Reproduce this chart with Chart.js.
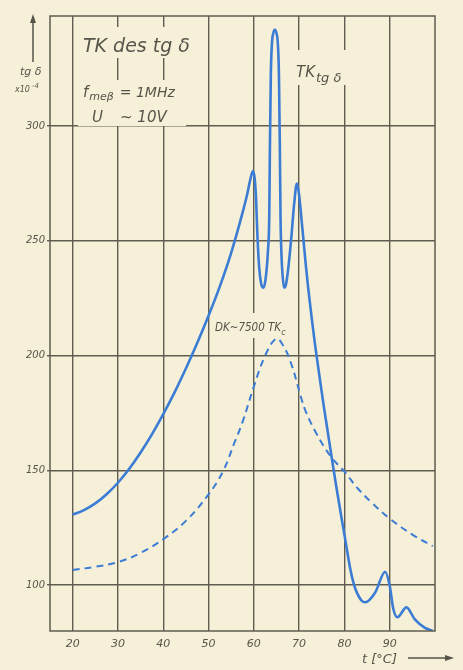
<!DOCTYPE html>
<html>
<head>
<meta charset="utf-8">
<script src="https://cdn.jsdelivr.net/npm/chart.js@4.4.1/dist/chart.umd.min.js"></script>
<style>
  html, body { margin: 0; padding: 0; background: #f7f0d8; }
  #wrap { width: 463px; height: 670px; }
</style>
</head>
<body>
<div id="wrap"><canvas id="chart"></canvas></div>
<script>
// TK tg δ (solid curve)
const solidT = [20, 22.5, 25, 27.5, 30, 32.5, 35, 37.5, 40, 42.5, 45, 47.5, 50, 52.5, 55, 57.5, 58.5, 59.2, 59.8,
  60.2, 60.5, 60.8, 61.2, 61.6, 62, 62.4, 62.8, 63.1, 63.4, 63.55, 63.75, 64, 64.3, 64.65, 65, 65.3, 65.55, 65.75, 65.9,
  66.1, 66.35, 66.7, 67.1, 67.6, 68.3, 68.9, 69.5, 70, 70.5, 71, 71.5, 72, 72.8, 73.5, 74.1, 75, 75.6, 76.5, 77.2, 78,
  78.5, 79.3, 80, 80.6, 81.3, 82, 82.8, 83.7, 84.6,
  86.8, 89, 90, 90.8, 91.7, 93.7, 95.5, 97.7, 99.5];
const solidV = [130.7, 132.7, 135.6, 139.6, 144.6, 150.7, 157.8, 165.7, 174.5, 184, 194.4, 205.5, 217.4, 230.2, 244.8, 262.2, 270, 276.5, 280.4,
  277, 268, 252, 238, 231.5, 229.6, 231, 237, 245, 260, 290, 322, 336, 340.5, 342, 340.5, 336, 322, 290, 260,
  244, 235, 229.6, 231, 238, 252, 266, 275, 270, 260, 249.5, 239, 229.5, 216, 205, 196.5, 184, 176, 164.5, 155.5, 145.5,
  139.5, 130, 122, 115, 107, 101, 96.5, 93.5, 92.5,
  96.8, 105.8, 99.7, 89.6, 86, 90.3, 85.2, 81.5, 80];

// DK ~ 7500 TKc (dashed curve)
const dashT = [20, 25, 30, 35, 40, 45, 50, 53.3, 55.7, 57.5, 60, 62.5, 64.9, 66.3, 68.2, 70.4, 71.5, 73.7, 77, 80, 83, 86, 90, 95, 99.5];
const dashV = [106.6, 108, 110, 114, 120, 128, 139.5, 150, 162, 171, 186.5, 200, 207.4, 205, 196.8, 182, 175.5, 166.5, 156, 149.5, 142, 136, 129, 122, 117];

const xTicks = [20, 30, 40, 50, 60, 70, 80, 90];
const yTicks = [100, 150, 200, 250, 300];

const paper = '#f7f0d8';
const ink = '#55544a';
const gridCol = '#5e5d50';
const blue = '#3b7cd4';
const fontFam = '"DejaVu Sans", "Liberation Sans", sans-serif';
const condFam = '"DejaVu Sans Condensed", "Liberation Sans Narrow", sans-serif';

function pts(xs, ys) {
  return xs.map((x, i) => ({ x: x, y: ys[i] }));
}

function arrowHead(c, x, y, dir) {
  c.beginPath();
  if (dir === 'up') {
    c.moveTo(x, y); c.lineTo(x - 3, y + 9); c.lineTo(x + 3, y + 9);
  } else {
    c.moveTo(x, y); c.lineTo(x - 9, y - 3); c.lineTo(x - 9, y + 3);
  }
  c.closePath();
  c.fill();
}

const deco = {
  id: 'deco',
  beforeDatasetsDraw(chart) {
    // paper-coloured patches behind the labels, they break the grid lines
    const c = chart.ctx;
    c.save();
    c.fillStyle = paper;
    [[78, 27, 122, 31], [78, 80, 108, 46], [292, 50, 58, 35], [213, 313, 69, 25]]
      .forEach(r => c.fillRect(r[0], r[1], r[2], r[3]));
    c.restore();
  },
  afterDraw(chart) {
    const c = chart.ctx, a = chart.chartArea;
    c.save();
    c.strokeStyle = gridCol;
    c.lineWidth = 1.5;
    c.strokeRect(a.left, a.top, a.right - a.left, a.bottom - a.top);

    c.fillStyle = ink;
    c.textBaseline = 'alphabetic';
    c.textAlign = 'left';
    const txt = (s, x, y, size, fam) => {
      c.font = 'oblique ' + size + 'px ' + (fam || fontFam);
      c.fillText(s, x, y);
      return x + c.measureText(s).width;
    };

    // title block
    txt('TK des tg δ', 83, 52, 19);
    let x = txt('f', 83, 97, 15);
    x = txt('meβ', x + 1, 100, 11);
    txt('= 1MHz', x + 6, 97, 14);
    txt('U', 92, 122, 15);
    txt('~ 10V', 120, 122, 15);

    // curve labels
    x = txt('TK', 296, 77, 15);
    txt('tg δ', x + 1, 82, 13);
    x = txt('DK~7500 TK', 215, 331, 11.5, condFam);
    txt('c', x, 335, 9, condFam);

    // y axis caption with arrow
    txt('tg δ', 20, 75, 11);
    txt('x10', 15, 92, 8);
    txt('-4', 32, 88, 7);
    c.strokeStyle = ink;
    c.lineWidth = 1.5;
    c.beginPath(); c.moveTo(33, 62); c.lineTo(33, 22); c.stroke();
    arrowHead(c, 33, 14, 'up');

    // x axis caption with arrow
    txt('t [°C]', 362, 663, 13);
    c.beginPath(); c.moveTo(408, 658); c.lineTo(446, 658); c.stroke();
    arrowHead(c, 454, 658, 'right');
    c.restore();
  }
};

new Chart(document.getElementById('chart'), {
  type: 'line',
  data: {
    datasets: [
      {
        label: 'TK tg δ',
        data: pts(solidT, solidV),
        borderColor: blue,
        borderWidth: 2.6,
        pointRadius: 0,
        cubicInterpolationMode: 'monotone',
        fill: false
      },
      {
        label: 'DK~7500 TKc',
        data: pts(dashT, dashV),
        borderColor: blue,
        borderWidth: 2,
        borderDash: [7, 5],
        pointRadius: 0,
        tension: 0.4,
        fill: false
      }
    ]
  },
  options: {
    responsive: true,
    maintainAspectRatio: false,
    animation: false,
    layout: { padding: { top: 16, right: 28, left: 0, bottom: 0 } },
    plugins: { legend: { display: false }, tooltip: { enabled: false } },
    scales: {
      x: {
        type: 'linear',
        min: 15,
        max: 100,
        afterBuildTicks: s => { s.ticks = xTicks.map(v => ({ value: v })); },
        afterFit: s => { s.height = 39; },
        grid: { color: gridCol, lineWidth: 1.4, drawTicks: false },
        border: { display: false },
        ticks: {
          color: ink,
          padding: 7,
          maxRotation: 0,
          font: { family: fontFam, size: 11, style: 'oblique' }
        }
      },
      y: {
        min: 80,
        max: 348,
        afterBuildTicks: s => { s.ticks = yTicks.map(v => ({ value: v })); },
        afterFit: s => { s.width = 50; },
        grid: { color: gridCol, lineWidth: 1.4, drawTicks: true, tickLength: 3 },
        border: { display: false },
        ticks: {
          color: ink,
          padding: 2,
          font: { family: fontFam, size: 10, style: 'oblique' }
        }
      }
    }
  },
  plugins: [deco]
});
</script>
</body>
</html>
